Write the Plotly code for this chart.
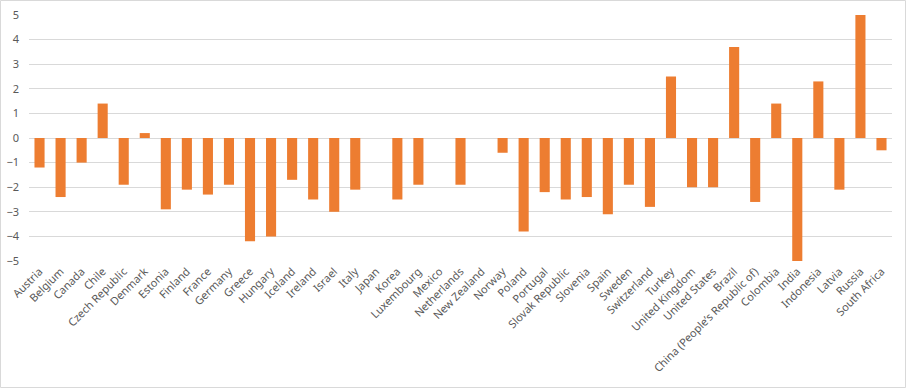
import plotly.graph_objects as go

countries = ["Austria", "Belgium", "Canada", "Chile", "Czech Republic", "Denmark", "Estonia",
             "Finland", "France", "Germany", "Greece", "Hungary", "Iceland", "Ireland", "Israel",
             "Italy", "Japan", "Korea", "Luxembourg", "Mexico", "Netherlands", "New Zealand",
             "Norway", "Poland", "Portugal", "Slovak Republic", "Slovenia", "Spain", "Sweden",
             "Switzerland", "Turkey", "United Kingdom", "United States", "Brazil",
             "China (People\u2019s Republic of)", "Colombia", "India", "Indonesia", "Latvia",
             "Russia", "South Africa"]
values = [-1.2, -2.4, -1.0, 1.4, -1.9, 0.2, -2.9,
          -2.1, -2.3, -1.9, -4.2, -4.0, -1.7, -2.5, -3.0,
          -2.1, 0.0, -2.5, -1.9, 0.0, -1.9, 0.0,
          -0.6, -3.8, -2.2, -2.5, -2.4, -3.1, -1.9,
          -2.8, 2.5, -2.0, -2.0, 3.7,
          -2.6, 1.4, -5.0, 2.3, -2.1,
          5.0, -0.5]
y_ticks = [-5, -4, -3, -2, -1, 0, 1, 2, 3, 4, 5]

W, H = 906, 388
L, R, T, B = 29, 14, 15, 127

fig = go.Figure(go.Bar(x=countries, y=values, marker_color="#ED7D31",
                       marker_line_width=0, hoverinfo="skip"))

pw = W - L - R
ph = H - T - B
fig.add_shape(type="rect", xref="paper", yref="paper",
              x0=(0.5 - L) / pw, x1=(W - 0.5 - L) / pw,
              y0=-(B - 0.5) / ph, y1=(ph + T - 0.5) / ph,
              line=dict(color="#D9D9D9", width=1), fillcolor="rgba(0,0,0,0)", layer="below")

fig.update_layout(
    width=W, height=H,
    margin=dict(l=L, r=R, t=T, b=B, autoexpand=False),
    paper_bgcolor="white", plot_bgcolor="white",
    bargap=0.52, showlegend=False,
    font=dict(family="Noto Sans, Liberation Sans, sans-serif", size=11, color="#595959"),
)
fig.update_xaxes(tickangle=-45, showgrid=False, showline=False, ticks="",
                 tickfont=dict(size=11, color="#595959"), ticklabelstandoff=1)
fig.update_yaxes(range=[-5, 5], tickvals=y_ticks, showgrid=True, gridcolor="#D9D9D9",
                 gridwidth=1, zeroline=True, zerolinecolor="#D9D9D9", zerolinewidth=1,
                 ticks="", tickfont=dict(size=11, color="#595959"), ticklabelstandoff=9)

fig.write_html("out.html", config={"displayModeBar": False},
               post_script="document.body.style.margin='0';document.body.style.overflow='hidden';")
